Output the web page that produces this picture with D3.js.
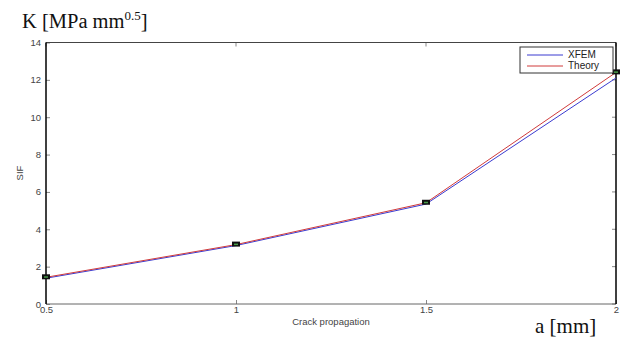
<!DOCTYPE html>
<html>
<head>
<meta charset="utf-8">
<script src="https://cdn.jsdelivr.net/npm/d3@7"></script>
<style>
  body { margin: 0; background: #fff; }
  svg { display: block; }
</style>
</head>
<body>
<svg id="chart" width="622" height="338"></svg>
<script>
// --- data ---
var crackLen = [0.5, 1, 1.5, 2];
var sifXfem = [1.38, 3.13, 5.35, 12.1];
var sifTheory = [1.43, 3.18, 5.42, 12.4];
var xTicks = [0.5, 1, 1.5, 2];
var yTicks = [0, 2, 4, 6, 8, 10, 12, 14];

var colorXfem = "#3b3bd0";
var colorTheory = "#d03b3b";

var svg = d3.select("#chart");
var plotL = 46, plotR = 616, plotT = 42.5, plotB = 304;

var x = d3.scaleLinear().domain([0.5, 2]).range([plotL, plotR]);
var y = d3.scaleLinear().domain([0, 14]).range([plotB, plotT]);

// axes with inward ticks
var tickFont = "Arial, 'Liberation Sans', sans-serif";
var gx = svg.append("g").attr("transform", "translate(0," + plotB + ")")
    .call(d3.axisBottom(x).tickValues(xTicks).tickSizeInner(-4).tickSizeOuter(0).tickPadding(5)
        .tickFormat(function(d) { return d; }));
var gy = svg.append("g").attr("transform", "translate(" + plotL + ",0)")
    .call(d3.axisLeft(y).tickValues(yTicks).tickSizeInner(-4).tickSizeOuter(0).tickPadding(5));
[gx, gy].forEach(function(g) {
    g.select(".domain").remove();
    g.selectAll("line").attr("stroke", "#888");
    g.selectAll("text").attr("font-family", tickFont).attr("font-size", 9.5).attr("fill", "#444");
});
gx.selectAll("text").attr("dy", "0.45em");

// top / right ticks
svg.append("g").selectAll("line").data(xTicks).enter().append("line")
    .attr("x1", d => x(d)).attr("x2", d => x(d)).attr("y1", plotT).attr("y2", plotT + 4)
    .attr("stroke", "#888");
svg.append("g").selectAll("line").data(yTicks).enter().append("line")
    .attr("x1", plotR).attr("x2", plotR - 4).attr("y1", d => y(d)).attr("y2", d => y(d))
    .attr("stroke", "#888");

// box
svg.append("line").attr("x1", plotL).attr("x2", plotR).attr("y1", plotT).attr("y2", plotT).attr("stroke", "#444");
svg.append("line").attr("x1", plotL).attr("x2", plotR).attr("y1", plotB).attr("y2", plotB).attr("stroke", "#666");
svg.append("line").attr("x1", plotL).attr("x2", plotL).attr("y1", plotT).attr("y2", plotB).attr("stroke", "#000").attr("stroke-width", 1.5);
svg.append("line").attr("x1", plotR).attr("x2", plotR).attr("y1", plotT).attr("y2", plotB).attr("stroke", "#000").attr("stroke-width", 1.5);

// lines
var line = d3.line().x(d => x(d[0])).y(d => y(d[1]));
svg.append("path").datum(d3.zip(crackLen, sifXfem)).attr("d", line)
    .attr("fill", "none").attr("stroke", colorXfem).attr("stroke-width", 1);
svg.append("path").datum(d3.zip(crackLen, sifTheory)).attr("d", line)
    .attr("fill", "none").attr("stroke", colorTheory).attr("stroke-width", 1);

// markers
svg.append("g").selectAll("rect").data(d3.zip(crackLen, sifTheory)).enter().append("rect")
    .attr("x", d => x(d[0]) - 4).attr("y", d => y(d[1]) - 3)
    .attr("width", 8).attr("height", 5).attr("fill", "#111");
svg.append("g").selectAll("rect").data(d3.zip(crackLen, sifTheory)).enter().append("rect")
    .attr("x", d => x(d[0]) - 2).attr("y", d => y(d[1]) - 1)
    .attr("width", 4).attr("height", 1.5).attr("fill", "#4a9a4a");

// legend
var lg = svg.append("g").attr("transform", "translate(520,47)");
lg.append("rect").attr("width", 93).attr("height", 26).attr("fill", "#fff").attr("stroke", "#333");
[["XFEM", colorXfem], ["Theory", colorTheory]].forEach(function(s, i) {
    lg.append("line").attr("x1", 7).attr("x2", 43).attr("y1", 8 + i * 11).attr("y2", 8 + i * 11)
        .attr("stroke", s[1]);
    lg.append("text").attr("x", 48).attr("y", 11 + i * 11).text(s[0])
        .attr("font-family", tickFont).attr("font-size", 10).attr("fill", "#222");
});

// axis labels
svg.append("text").attr("transform", "translate(23,173) rotate(-90)").attr("text-anchor", "middle")
    .attr("font-family", tickFont).attr("font-size", 9.5).attr("fill", "#444").text("SIF");
svg.append("text").attr("x", 331).attr("y", 325).attr("text-anchor", "middle")
    .attr("font-family", tickFont).attr("font-size", 9.5).attr("fill", "#444").text("Crack propagation");

var serif = "'Liberation Serif', 'DejaVu Serif', serif";
var t = svg.append("text").attr("x", 22).attr("y", 28).attr("font-family", serif).attr("font-size", 20.5).attr("fill", "#111");
t.append("tspan").text("K [MPa mm");
t.append("tspan").attr("font-size", 13).attr("dy", -8).text("0.5");
t.append("tspan").attr("dy", 8).text("]");

svg.append("text").attr("x", 535).attr("y", 333).attr("font-family", serif).attr("font-size", 21)
    .attr("fill", "#111").text("a [mm]");
</script>
</body>
</html>
